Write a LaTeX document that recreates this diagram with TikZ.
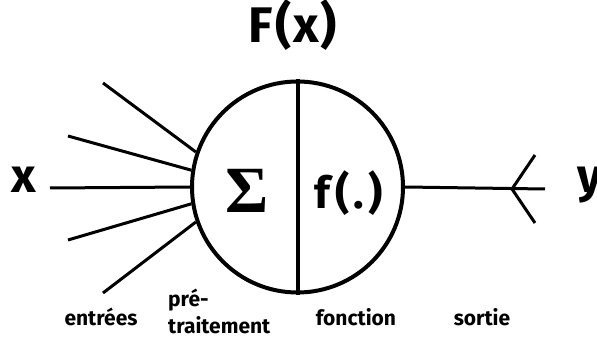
\documentclass[tikz,border=0pt]{standalone}
\usepackage{fontspec}
\setmainfont{Fira Sans}
\newfontfamily\sigmafont{Liberation Serif}
\begin{document}
\begin{tikzpicture}[x=1pt,y=-1pt,
  wire/.style={line width=3pt},
  body/.style={line width=4pt},
  lbl/.style={font=\bfseries\fontsize{21}{21}\selectfont, anchor=base, inner sep=0pt},
  big/.style={font=\bfseries\fontsize{48}{48}\selectfont, anchor=base, inner sep=0pt}]
\useasboundingbox (0,0) rectangle (597,339);
% neuron body
\node[circle, draw, body, minimum size=211pt, inner sep=0pt] (c) at (297.5,187) {};
\draw[body] (c.north) -- (c.south);
% inputs
\coordinate (i1) at (103,83);
\coordinate (i2) at (68,136);
\coordinate (i3) at (50,188);
\coordinate (i4) at (68,240);
\coordinate (i5) at (103,293);
\draw[wire] (i1) -- (c.161);
\draw[wire] (i2) -- (c.171);
\draw[wire] (i3) -- (c.west);
\draw[wire] (i4) -- (c.189);
\draw[wire] (i5) -- (c.199);
% output
\coordinate (fork) at (512,189);
\coordinate (oend) at (545,189);
\coordinate (a1) at (535,155);
\coordinate (a2) at (535,223);
\draw[wire] (c.east) -- (oend);
\draw[wire] (a1) -- (fork) -- (a2);
% texts
\node[big] (x) at (24,193) {x};
\node[big, anchor=base west] (y) at (577,193) {y};
\node[big, font=\bfseries\fontsize{50}{50}\selectfont\addfontfeatures{LetterSpace=4}] (F) at (293,43) {F(x)};
\node[anchor=base, inner sep=0pt, font=\sigmafont\bfseries\fontsize{66}{66}\selectfont] (S) at (247,213) {Σ};
\node[big, font=\bfseries\fontsize{44}{44}\selectfont\addfontfeatures{LetterSpace=10}] (f) at (349,209) {f(.)};
\node[lbl] (e) at (101,325) {entrées};
\node[lbl, anchor=base west] (p1) at (168,306) {pré-};
\node[lbl, anchor=base west] (p2) at (168,333) {traitement};
\node[lbl] (fo) at (356,325) {fonction};
\node[lbl] (so) at (482,325) {sortie};
\end{tikzpicture}
\end{document}
